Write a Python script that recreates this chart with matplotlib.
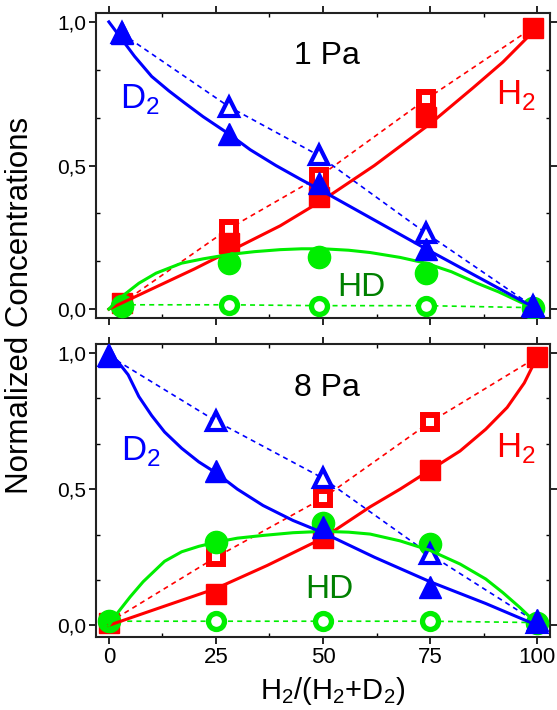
import matplotlib
matplotlib.use("Agg")
import matplotlib.pyplot as plt
from matplotlib.ticker import MultipleLocator, FixedLocator

plt.rcParams['font.family'] = ['Liberation Sans', 'DejaVu Sans']
plt.rcParams['mathtext.fontset'] = 'custom'
plt.rcParams['mathtext.rm'] = 'Liberation Sans'

# ---- 1 Pa (top panel) ----
x_1pa = [3, 28, 49, 74, 99]
d2_fill_1pa = [0.96, 0.61, 0.44, 0.21, 0.01]
d2_open_1pa = [0.96, 0.705, 0.535, 0.265, 0.01]
h2_fill_1pa = [0.02, 0.23, 0.39, 0.67, 0.98]
h2_open_1pa = [0.02, 0.28, 0.46, 0.73, 0.98]
hd_fill_1pa = [0.012, 0.16, 0.18, 0.125, 0.005]
hd_open_1pa = [0.015, 0.015, 0.012, 0.012, 0.005]

# fitted curves
d2_fit_x_1pa = [0, 3, 6, 10, 14, 17.5, 22, 28, 33, 39, 45, 50, 62, 74, 87, 100]
d2_fit_y_1pa = [1.0, 0.94, 0.88, 0.81, 0.76, 0.72, 0.67, 0.61, 0.555, 0.50,
                0.45, 0.41, 0.31, 0.21, 0.105, 0.0]
h2_fit_x_1pa = [0, 5, 10, 20, 28, 40, 50, 62, 75, 85, 92, 100]
h2_fit_y_1pa = [0.0, 0.035, 0.07, 0.14, 0.20, 0.29, 0.38, 0.50, 0.645, 0.77,
                0.86, 0.98]
hd_fit_x_1pa = [0, 2, 4, 7, 11, 17, 22, 28, 34, 40, 45, 50, 56, 61, 68, 74,
                80, 86, 91, 96, 100]
hd_fit_y_1pa = [0.0, 0.03, 0.055, 0.09, 0.125, 0.16, 0.175, 0.19, 0.20, 0.207,
                0.21, 0.21, 0.205, 0.197, 0.18, 0.16, 0.13, 0.09, 0.06, 0.025,
                0.0]

# ---- 8 Pa (bottom panel) ----
x_8pa = [0, 25, 50, 75, 100]
d2_fill_8pa = [0.99, 0.565, 0.36, 0.14, 0.02]
d2_open_8pa = [0.99, 0.75, 0.54, 0.26, 0.01]
h2_fill_8pa = [0.01, 0.116, 0.32, 0.57, 0.985]
h2_open_8pa = [0.01, 0.25, 0.467, 0.746, 0.985]
hd_fill_8pa = [0.015, 0.305, 0.377, 0.297, 0.01]
hd_open_8pa = [0.015, 0.015, 0.015, 0.015, 0.01]

d2_fit_x_8pa = [0, 2, 4.5, 7, 10, 13, 17, 21, 25, 30, 36, 43, 50, 62, 75, 88,
                100]
d2_fit_y_8pa = [0.99, 0.97, 0.92, 0.84, 0.77, 0.71, 0.65, 0.60, 0.56, 0.50,
                0.44, 0.385, 0.34, 0.25, 0.16, 0.08, 0.0]
h2_fit_x_8pa = [0, 12, 25, 37, 50, 61, 68, 75, 82, 88, 93, 97, 100]
h2_fit_y_8pa = [0.0, 0.065, 0.135, 0.22, 0.32, 0.435, 0.50, 0.57, 0.64, 0.72,
                0.80, 0.89, 0.985]
hd_fit_x_8pa = [0, 2, 5, 8, 10, 13, 17, 21, 25, 30, 36, 43, 50, 56, 61, 68,
                75, 82, 88, 92, 96, 98, 100]
hd_fit_y_8pa = [0.0, 0.045, 0.105, 0.16, 0.19, 0.235, 0.27, 0.29, 0.305, 0.32,
                0.33, 0.34, 0.345, 0.342, 0.335, 0.31, 0.275, 0.225, 0.17,
                0.12, 0.065, 0.035, 0.0]

BLUE = "#0000ff"
RED = "#ff0000"
GREEN = "#00ee00"
DKGREEN = "#008000"
DASH = (0, (3, 2.5))


def draw_panel(ax, x, d2f, d2o, h2f, h2o, hdf, hdo, fits, label, pos):
    (d2x, d2y), (h2x, h2y), (hdx, hdy) = fits
    # dashed guides through the open symbols
    ax.plot(x, h2o, ls=DASH, lw=1.2, color=RED, zorder=2)
    ax.plot(x, d2o, ls=DASH, lw=1.2, color=BLUE, zorder=2)
    ax.plot(x, hdo, ls=DASH, lw=1.2, color=GREEN, zorder=2)
    # solid fitted curves
    ax.plot(h2x, h2y, lw=2.2, color=RED, zorder=4)
    ax.plot(hdx, hdy, lw=2.2, color=GREEN, zorder=4)
    ax.plot(d2x, d2y, lw=2.2, color=BLUE, zorder=4)
    # symbols: open first, filled on top
    ax.plot(x, h2o, 's', ms=10.5, mfc='white', mec=RED, mew=4.3, zorder=3)
    ax.plot(x, h2f, 's', ms=14, color=RED, mec=RED, zorder=3)
    ax.plot(x, hdo, 'o', ms=11.5, mfc='white', mec=GREEN, mew=3.8, zorder=3)
    ax.plot(x, hdf, 'o', ms=16, color=GREEN, zorder=3)
    ax.plot(x, d2o, '^', ms=13.5, mfc='white', mec=BLUE, mew=3, zorder=3)
    ax.plot(x, d2f, '^', ms=16, color=BLUE, zorder=5)

    t, d, h, hd = pos
    ax.text(t[0], t[1], label, fontsize=23, ha='center', va='center')
    ax.text(d[0], d[1], r'D$_2$', fontsize=25, color=BLUE,
            ha='left', va='center')
    ax.text(h[0], h[1], r'H$_2$', fontsize=25, color=RED,
            ha='left', va='center')
    ax.text(hd[0], hd[1], 'HD', fontsize=24, color=DKGREEN,
            ha='center', va='center')

    ax.set_xlim(-3, 103)
    ax.xaxis.set_major_locator(FixedLocator([0, 25, 50, 75, 100]))
    ax.xaxis.set_minor_locator(MultipleLocator(12.5))
    ax.yaxis.set_major_locator(FixedLocator([0, 0.5, 1.0]))
    ax.yaxis.set_minor_locator(MultipleLocator(1 / 6))
    ax.set_yticklabels(["0,0", "0,5", "1,0"])
    ax.tick_params(which='major', direction='out', length=5, width=1.2,
                   labelsize=15, pad=2)
    ax.tick_params(which='minor', direction='in', length=3, width=1)
    ax.tick_params(which='both', top=True, right=True)
    for s in ax.spines.values():
        s.set_linewidth(1.5)
        s.set_color('#222222')


fig = plt.figure(figsize=(5.57, 7.10), dpi=100)
ax1 = fig.add_axes([0.1724, 0.5521, 0.815, 0.4296])
ax2 = fig.add_axes([0.1724, 0.1028, 0.815, 0.4127])

draw_panel(ax1, x_1pa, d2_fill_1pa, d2_open_1pa, h2_fill_1pa, h2_open_1pa,
           hd_fill_1pa, hd_open_1pa,
           [(d2_fit_x_1pa, d2_fit_y_1pa), (h2_fit_x_1pa, h2_fit_y_1pa),
            (hd_fit_x_1pa, hd_fit_y_1pa)],
           "1 Pa", [(51, 0.88), (2.5, 0.73), (90.5, 0.745), (59, 0.075)])
ax1.set_ylim(-0.031, 1.031)
ax1.tick_params(labelbottom=False)

draw_panel(ax2, x_8pa, d2_fill_8pa, d2_open_8pa, h2_fill_8pa, h2_open_8pa,
           hd_fill_8pa, hd_open_8pa,
           [(d2_fit_x_8pa, d2_fit_y_8pa), (h2_fit_x_8pa, h2_fit_y_8pa),
            (hd_fit_x_8pa, hd_fit_y_8pa)],
           "8 Pa", [(51, 0.87), (2.8, 0.64), (90.5, 0.65), (51.5, 0.13)])
ax2.set_ylim(-0.043, 1.033)
ax2.tick_params(axis='x', labelsize=16)
ax2.set_xlabel(r'H$_2$/(H$_2$+D$_2$)', fontsize=21)
ax2.xaxis.set_label_coords(0.52, -0.13)

fig.text(0.036, 0.57, "Normalized Concentrations", rotation=90,
         fontsize=22.5, ha='center', va='center')

fig.savefig("out.png", dpi=100)
